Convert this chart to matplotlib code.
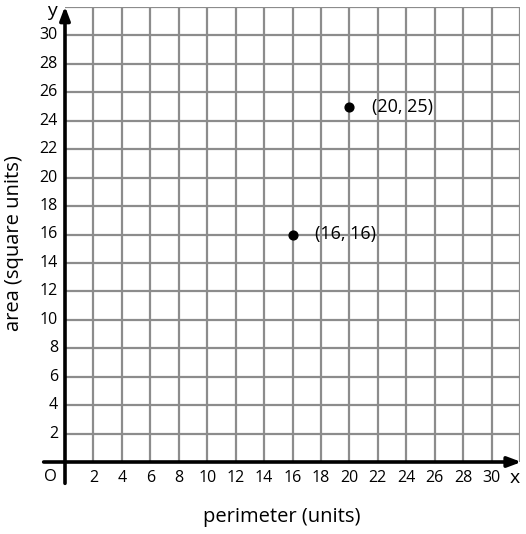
import matplotlib.pyplot as plt

# data
px = [16, 20]
py = [16, 25]
point_labels = ['(16, 16)', '(20, 25)']
ticks = list(range(2, 31, 2))

plt.rcParams['font.family'] = ['Open Sans', 'DejaVu Sans']

fig = plt.figure(figsize=(5.26, 5.34), dpi=100)
ax = fig.add_axes([65 / 526, 72 / 534, 455 / 526, 455 / 534])
ax.set_xlim(0, 32)
ax.set_ylim(0, 32)

# grid
for v in range(2, 33, 2):
    ax.axvline(v, color='#8c8c8c', lw=1.6, zorder=1)
    ax.axhline(v, color='#8c8c8c', lw=1.6, zorder=1)

for s in ax.spines.values():
    s.set_visible(False)
ax.set_xticks([])
ax.set_yticks([])

# axes with arrows
arrow = dict(arrowstyle='-|>,head_length=0.8,head_width=0.3',
             color='black', lw=2.6, shrinkA=0, shrinkB=0)
ax.annotate('', xy=(32.1, 0), xytext=(-1.5, 0), arrowprops=arrow,
            annotation_clip=False, zorder=3)
ax.annotate('', xy=(0, 32.05), xytext=(0, -1.5), arrowprops=arrow,
            annotation_clip=False, zorder=3)

for t in ticks:
    ax.text(t, -1.15, str(t), ha='center', va='center', fontsize=11.5)
    ax.text(-0.5, t, str(t), ha='right', va='center', fontsize=11.5)

ax.text(31.65, -1.15, 'x', ha='center', va='center', fontsize=14)
ax.text(-0.9, 31.7, 'y', ha='center', va='center', fontsize=14)
ax.text(-1.05, -1.05, 'O', ha='center', va='center', fontsize=12)

ax.scatter(px, py, s=40, color='black', zorder=4, clip_on=False)
for x, y, lab in zip(px, py, point_labels):
    ax.text(x + 1.6, y, lab, ha='left', va='center', fontsize=13)

fig.text(282 / 526, 1 - 517 / 534, 'perimeter (units)', ha='center', va='center', fontsize=14.5)
fig.text(14 / 526, 1 - 243 / 534, 'area (square units)', ha='center', va='center',
         fontsize=14.5, rotation=90)

fig.savefig('out.png', dpi=100)
